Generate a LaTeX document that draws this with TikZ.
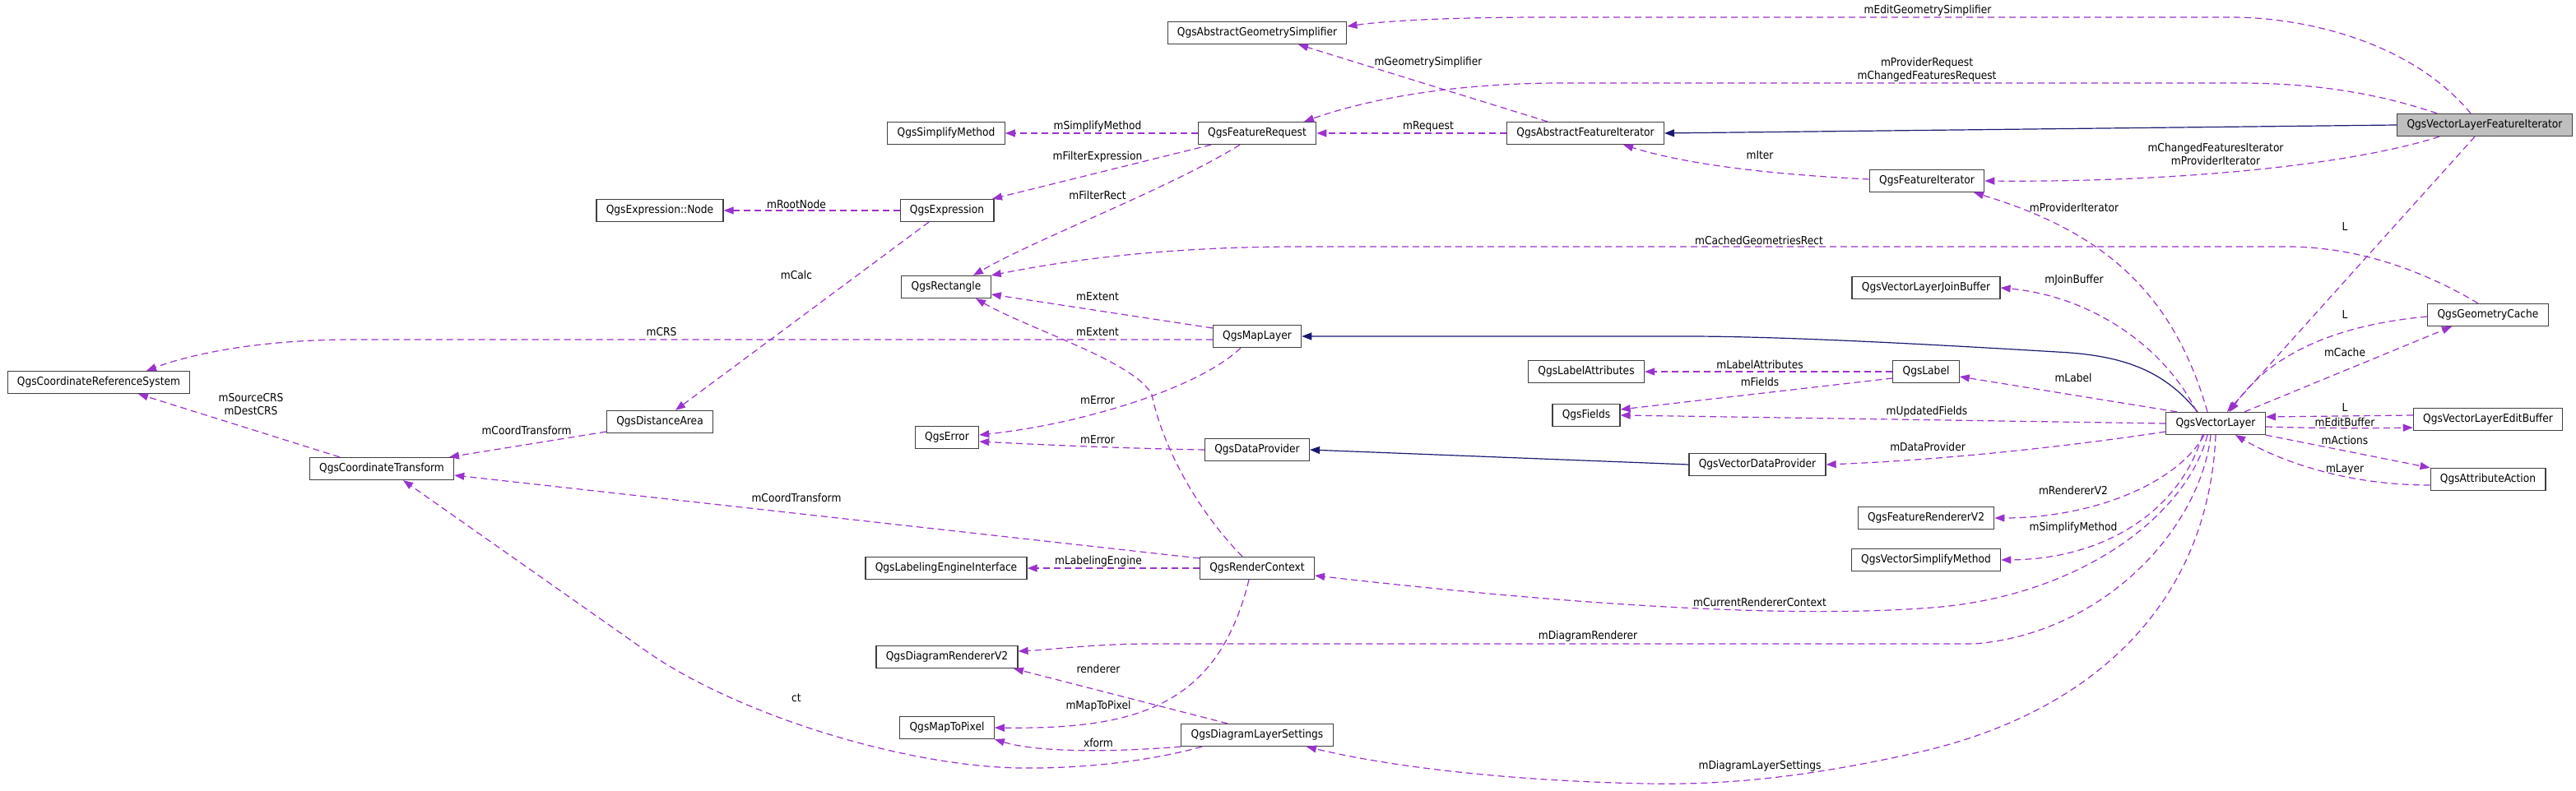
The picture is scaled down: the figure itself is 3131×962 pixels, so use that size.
\documentclass[tikz,border=0pt]{standalone}
\usepackage{fontspec}
\setmainfont{DejaVu Sans}[FakeStretch=0.9]
\usepackage{xcolor}
\usepackage{tikz}
\usetikzlibrary{arrows.meta, positioning, calc}

\definecolor{orchid}{HTML}{9A32CD}
\definecolor{midnight}{HTML}{191970}

\begin{document}
\begin{tikzpicture}[
  x=0.5pt, y=-0.5pt,
  font=\fontsize{6.8pt}{8pt}\selectfont,
  cls/.style={draw=black!75, line width=0.6pt, fill=white, minimum height=13.5pt, inner xsep=5.9pt, inner ysep=0pt},
  mbr/.style={draw=orchid, line width=0.6pt, dash pattern=on 4pt off 2.5pt, -{Triangle[length=6pt,width=4.5pt]}},
  isa/.style={draw=midnight, line width=0.6pt, -{Triangle[length=6pt,width=4.5pt]}},
  lbl/.style={inner sep=0pt, align=center}
]
\useasboundingbox (0,0) rectangle (3131,962);
% classes
\node[cls, fill=black!25] (vlfi) at (3020,152) {QgsVectorLayerFeatureIterator};
\node[cls] (ags) at (1528,40) {QgsAbstractGeometrySimplifier};
\node[cls] (sm) at (1150,162) {QgsSimplifyMethod};
\node[cls] (fr) at (1528,162) {QgsFeatureRequest};
\node[cls] (afi) at (1927,162) {QgsAbstractFeatureIterator};
\node[cls] (fi) at (2342,220) {QgsFeatureIterator};
\node[cls] (exnode) at (802,256) {QgsExpression::Node};
\node[cls] (expr) at (1151,256) {QgsExpression};
\node[cls] (rect) at (1150,349) {QgsRectangle};
\node[cls] (vljb) at (2341,350) {QgsVectorLayerJoinBuffer};
\node[cls] (gc) at (3024,383) {QgsGeometryCache};
\node[cls] (crs) at (120,465) {QgsCoordinateReferenceSystem};
\node[cls] (ml) at (1528,409) {QgsMapLayer};
\node[cls] (la) at (1928,452) {QgsLabelAttributes};
\node[cls] (lab) at (2341,452) {QgsLabel};
\node[cls] (fields) at (1928,505) {QgsFields};
\node[cls] (vl) at (2693,515) {QgsVectorLayer};
\node[cls] (vleb) at (3024,510) {QgsVectorLayerEditBuffer};
\node[cls] (da) at (802,513) {QgsDistanceArea};
\node[cls] (err) at (1151,532) {QgsError};
\node[cls] (dp) at (1528,547) {QgsDataProvider};
\node[cls] (vdp) at (2136,565) {QgsVectorDataProvider};
\node[cls] (ct) at (464,570) {QgsCoordinateTransform};
\node[cls] (aa) at (3024,583) {QgsAttributeAction};
\node[cls] (frv2) at (2341,630) {QgsFeatureRendererV2};
\node[cls] (vsm) at (2341,681) {QgsVectorSimplifyMethod};
\node[cls] (lei) at (1150,691) {QgsLabelingEngineInterface};
\node[cls] (rc) at (1528,691) {QgsRenderContext};
\node[cls] (drv2) at (1151,799) {QgsDiagramRendererV2};
\node[cls] (m2p) at (1151,885) {QgsMapToPixel};
\node[cls] (dls) at (1528,894) {QgsDiagramLayerSettings};

% inheritance
\draw[isa] (vlfi.west) -- (afi.east);
\draw[isa] (vdp.west) -- (dp.east);
\draw[isa] ($(vl.north)+(-22,0)$) .. controls (2630,450) and (2580,432) .. (2500,428)
  .. controls (2300,416) and (2150,409) .. (2050,409) -- (ml.east);

% members
\draw[mbr] ($(vlfi.north)+(-17,0)$) .. controls (2930,50) and (2800,21) .. (2712,21) -- (1880,21)
  .. controls (1750,21) and (1680,26) .. ($(ags.east)+(0,-8)$);
\draw[mbr] ($(afi.north)+(-46,0)$) -- ($(ags.south)+(50,0)$);
\draw[mbr] ($(vlfi.north)+(-58,0)$) .. controls (2880,110) and (2800,101) .. (2720,101) -- (1900,101)
  .. controls (1750,101) and (1650,125) .. ($(fr.north)+(57,0)$);
\draw[mbr] (afi.west) -- (fr.east);
\draw[mbr] (fr.west) -- (sm.east);
\draw[mbr] ($(fr.south)+(-56,0)$) -- ($(expr.north)+(55,0)$);
\draw[mbr] ($(fr.south)+(-21,0)$) .. controls (1420,230) and (1260,290) .. ($(rect.north)+(33,0)$);
\draw[mbr] (expr.west) -- (exnode.east);
\draw[mbr] ($(expr.south)+(-22,0)$) -- ($(da.north)+(19,0)$);
\draw[mbr] ($(gc.north)+(-12,0)$) .. controls (2930,320) and (2850,300) .. (2780,300) -- (1580,300)
  .. controls (1400,300) and (1280,320) .. (rect.north east);
\draw[mbr] ($(ml.west)+(0,-10)$) -- ($(rect.east)+(0,9)$);
\draw[mbr] ($(ml.west)+(0,4)$) -- (430,413) .. controls (300,413) and (220,435) .. ($(crs.north)+(58,0)$);
\draw[mbr] ($(rc.north)+(-18,0)$) .. controls (1445,610) and (1410,530) .. (1400,480)
  .. controls (1380,440) and (1250,400) .. ($(rect.south)+(36,0)$);
\draw[mbr] ($(ml.south)+(-20,0)$) .. controls (1460,470) and (1320,515) .. ($(err.east)+(0,-3)$);
\draw[mbr] (dp.west) .. controls (1350,545) and (1250,540) .. ($(err.east)+(0,5)$);
\draw[mbr] ($(da.west)+(0,12)$) -- ($(ct.north)+(82,0)$);
\draw[mbr] ($(rc.west)+(0,-12)$) -- ($(ct.east)+(0,8)$);
\draw[mbr] ($(ct.north)+(-51,0)$) -- ($(crs.south)+(48,0)$);
\draw[mbr] ($(dls.south)+(-67,0)$) .. controls (1400,925) and (1320,935) .. (1240,934)
  .. controls (1100,932) and (900,870) .. (790,795) -- ($(ct.south)+(26,0)$);
\draw[mbr] (dls.south west) .. controls (1350,915) and (1260,915) .. (m2p.south east);
\draw[mbr] ($(dls.north)+(-36,0)$) -- ($(drv2.south)+(81,0)$);
\draw[mbr] ($(rc.south)+(-10,0)$) .. controls (1480,860) and (1380,887) .. (m2p.east);
\draw[mbr] (rc.west) -- (lei.east);
\draw[mbr] ($(vl.south)+(-6,0)$) .. controls (2675,640) and (2560,770) .. (2400,783) -- (1400,783)
  .. controls (1330,783) and (1280,790) .. ($(drv2.east)+(0,-7)$);
\draw[mbr] (vl.south) .. controls (2685,720) and (2560,860) .. (2340,913)
  .. controls (2200,945) and (2100,955) .. (2000,953)
  .. controls (1850,950) and (1700,935) .. ($(dls.south)+(60,0)$);
\draw[mbr] ($(vl.south)+(-10,0)$) .. controls (2660,620) and (2540,720) .. (2360,738)
  .. controls (2200,752) and (1950,740) .. ($(rc.east)+(0,9)$);
\draw[mbr] ($(vl.south)+(-16,0)$) .. controls (2650,620) and (2560,680) .. (vsm.east);
\draw[mbr] ($(vl.south)+(-14,0)$) .. controls (2645,590) and (2540,630) .. (frv2.east);
\draw[mbr] ($(vl.west)+(0,10)$) .. controls (2500,545) and (2350,560) .. (vdp.east);
\draw[mbr] (vl.west) -- (fields.east);
\draw[mbr] ($(lab.west)+(0,8)$) -- ($(fields.east)+(0,-7)$);
\draw[mbr] (lab.west) -- (la.east);
\draw[mbr] ($(vl.north)+(-47,0)$) -- ($(lab.east)+(0,6)$);
\draw[mbr] ($(vl.north)+(-23,0)$) .. controls (2630,420) and (2540,360) .. (vljb.east);
\draw[mbr] ($(vl.north)+(-10,0)$) .. controls (2640,350) and (2550,280) .. ($(fi.south)+(57,0)$);
\draw[mbr] ($(vlfi.south)+(-55,0)$) .. controls (2860,200) and (2650,222) .. (fi.east);
\draw[mbr] ($(fi.west)+(0,-2)$) .. controls (2150,212) and (2050,200) .. ($(afi.south)+(46,0)$);
\draw[mbr] ($(vlfi.south)+(-12,0)$) -- ($(vl.north)+(14,0)$);
\draw[mbr] ($(gc.west)+(0,2)$) .. controls (2840,395) and (2760,430) .. ($(vl.north)+(17,0)$);
\draw[mbr] ($(vl.north)+(35,0)$) -- ($(gc.south)+(-44,0)$);
\draw[mbr] ($(vleb.west)+(0,-5)$) -- ($(vl.east)+(0,-8)$);
\draw[mbr] ($(vl.east)+(0,4)$) .. controls (2820,521) and (2880,521) .. ($(vleb.west)+(0,10)$);
\draw[mbr] (vl.south east) -- (aa.north west);
\draw[mbr] ($(aa.west)+(0,7)$) .. controls (2850,590) and (2770,560) .. ($(vl.south)+(24,0)$);

% edge labels
\node[lbl] (t1) at (2343,13) {mEditGeometrySimplifier};
\node[lbl] (t2) at (1736,76) {mGeometrySimplifier};
\node[lbl] (t3) at (2342,85) {mProviderRequest\\mChangedFeaturesRequest};
\node[lbl] (t4) at (1334,154) {mSimplifyMethod};
\node[lbl] (t5) at (1736,154) {mRequest};
\node[lbl] (t6) at (2693,187) {mChangedFeaturesIterator\\mProviderIterator};
\node[lbl] (t7) at (2139,189) {mIter};
\node[lbl] (t8) at (1334,191) {mFilterExpression};
\node[lbl] (t9) at (1334,237) {mFilterRect};
\node[lbl] (t10) at (968,248) {mRootNode};
\node[lbl] (t11) at (2521,252) {mProviderIterator};
\node[lbl] (t12) at (2850,276) {L};
\node[lbl] (t13) at (2138,292) {mCachedGeometriesRect};
\node[lbl] (t14) at (968,334) {mCalc};
\node[lbl] (t15) at (2521,341) {mJoinBuffer};
\node[lbl] (t16) at (1334,361) {mExtent};
\node[lbl] (t17) at (2850,383) {L};
\node[lbl] (t18) at (804,404) {mCRS};
\node[lbl] (t19) at (1334,404) {mExtent};
\node[lbl] (t20) at (2850,428) {mCache};
\node[lbl] (t21) at (2139,443) {mLabelAttributes};
\node[lbl] (t22) at (2520,459) {mLabel};
\node[lbl] (t23) at (2139,464) {mFields};
\node[lbl] (t24) at (305,492) {mSourceCRS\\mDestCRS};
\node[lbl] (t25) at (1334,487) {mError};
\node[lbl] (t26) at (2850,496) {L};
\node[lbl] (t27) at (2342,501) {mUpdatedFields};
\node[lbl] (t28) at (2850,513) {mEditBuffer};
\node[lbl] (t29) at (640,523) {mCoordTransform};
\node[lbl] (t30) at (1334,535) {mError};
\node[lbl] (t31) at (2850,535) {mActions};
\node[lbl] (t32) at (2343,543) {mDataProvider};
\node[lbl] (t33) at (2850,571) {mLayer};
\node[lbl] (t34) at (2520,596) {mRendererV2};
\node[lbl] (t35) at (968,605) {mCoordTransform};
\node[lbl] (t36) at (2520,642) {mSimplifyMethod};
\node[lbl] (t37) at (1335,683) {mLabelingEngine};
\node[lbl] (t38) at (2139,732) {mCurrentRendererContext};
\node[lbl] (t39) at (1930,774) {mDiagramRenderer};
\node[lbl] (t40) at (1335,813) {renderer};
\node[lbl] (t41) at (968,849) {ct};
\node[lbl] (t42) at (1335,859) {mMapToPixel};
\node[lbl] (t43) at (1335,903) {xform};
\node[lbl] (t44) at (2139,932) {mDiagramLayerSettings};
\end{tikzpicture}
\end{document}
